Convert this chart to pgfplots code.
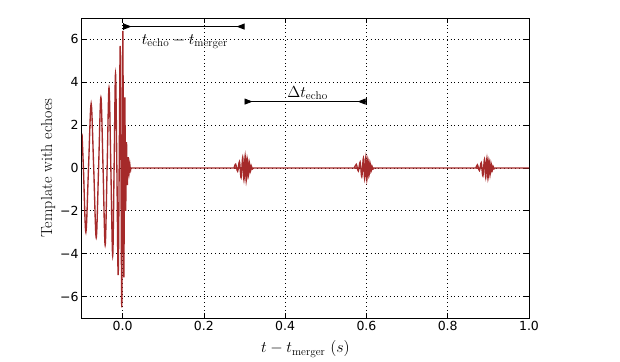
\RequirePackage{fix-cm}
\documentclass[border=0pt]{standalone}
\usepackage{fontspec}
\usepackage{pgfplots}
\pgfplotsset{compat=1.18}
\usetikzlibrary{arrows.meta}
\newfontfamily\dejavu{DejaVu Sans}
\definecolor{wave}{RGB}{165,42,42}
\begin{document}
\begin{tikzpicture}
\begin{axis}[
  at={(0,0)}, anchor=south west,
  scale only axis, width=447pt, height=300pt,
  xmin=-0.1, xmax=1.0, ymin=-7, ymax=7,
  xtick={0,0.2,0.4,0.6,0.8,1.0},
  xticklabels={0.0,0.2,0.4,0.6,0.8,1.0},
  ytick={-6,-4,-2,0,2,4,6},
  yticklabels={−6,−4,−2,0,2,4,6},
  tick label style={font=\dejavu\fontsize{12.5}{14}\selectfont},
  tick align=inside, major tick length=5pt,
  tick style={black, line width=0.8pt},
  xtick pos=both, ytick pos=both,
  axis line style={black, line width=1pt},
  grid=major,
  grid style={black, line width=0.8pt, dash pattern=on 0.8pt off 3pt},
  xlabel={$t - t_{\mathrm{merger}}\ (s)$},
  ylabel={Template with echoes},
  label style={font=\fontsize{16}{18}\selectfont},
  xlabel style={yshift=-3pt},
  ylabel style={yshift=-2pt},
  clip=true,
]
\addplot[wave, line width=1.35pt, smooth, tension=0.55] coordinates {
(-0.1000,1.6) (-0.0965,0) (-0.0905,-3.0) (-0.0840,0) (-0.0775,3.0) (-0.0712,0)
(-0.0650,-3.25) (-0.0592,0) (-0.0535,3.3) (-0.0482,0) (-0.0430,-3.6) (-0.0382,0)
(-0.0335,3.75) (-0.0290,0) (-0.0245,-4.1) (-0.0210,0) (-0.0175,4.4) (-0.0142,0)
(-0.0110,-5.0) (-0.0085,0) (-0.0060,5.7) (-0.0041,0) (-0.0022,-6.5) (-0.0008,0)
(0.0005,6.4) (0.0018,0) (0.0030,-5.1) (0.0043,0) (0.0055,3.3) (0.0065,0)
(0.0075,-2.0) (0.0085,0) (0.0095,1.2) (0.0105,0) (0.0115,-0.8) (0.0125,0)
(0.0135,0.5) (0.0145,0) (0.0155,-0.3) (0.0165,0) (0.0175,0.2) (0.0185,0)
(0.0195,-0.1) (0.0210,0) (0.0300,0)
(0.2700,0) (0.2740,0) (0.2780,0.18) (0.2830,-0.15) (0.2875,0.30) (0.2915,-0.45)
(0.2955,0.50) (0.2985,-0.55) (0.3015,0.57) (0.3040,-0.60) (0.3065,0.45) (0.3090,-0.40)
(0.3115,0.28) (0.3140,-0.18) (0.3165,0.10) (0.3190,-0.05) (0.3220,0) (0.3300,0)
(0.5650,0) (0.5700,0) (0.5750,0.17) (0.5800,-0.14) (0.5845,0.28) (0.5885,-0.41)
(0.5925,0.46) (0.5955,-0.51) (0.5985,0.52) (0.6010,-0.55) (0.6035,0.41) (0.6060,-0.37)
(0.6085,0.26) (0.6110,-0.17) (0.6135,0.09) (0.6160,-0.05) (0.6190,0) (0.6300,0)
(0.8650,0) (0.8690,0) (0.8730,0.15) (0.8780,-0.12) (0.8825,0.25) (0.8865,-0.37)
(0.8905,0.41) (0.8935,-0.45) (0.8965,0.47) (0.8990,-0.49) (0.9015,0.37) (0.9040,-0.33)
(0.9065,0.23) (0.9090,-0.15) (0.9115,0.08) (0.9140,-0.04) (0.9170,0) (0.9300,0)
(1.0000,0)
};
\draw[black, line width=0.8pt,
  {Bar[width=7pt]Triangle[reversed,length=8pt,width=6pt]}-{Triangle[reversed,length=8pt,width=6pt]}]
  (axis cs:0,6.6) -- (axis cs:0.3,6.6);
\draw[black, line width=0.8pt,
  {Triangle[reversed,length=8pt,width=6pt]}-{Triangle[reversed,length=8pt,width=6pt]Bar[width=7pt]}]
  (axis cs:0.3,3.1) -- (axis cs:0.6,3.1);
\node[font=\fontsize{16}{18}\selectfont] at (axis cs:0.153,5.9) {$t_{\mathrm{echo}} - t_{\mathrm{merger}}$};
\node[font=\fontsize{16}{18}\selectfont] at (axis cs:0.455,3.5) {$\Delta t_{\mathrm{echo}}$};
\node[anchor=south west, inner sep=0pt, font=\dejavu\fontsize{12.5}{14}\selectfont] at (rel axis cs:0,1) [yshift=3pt] {1e−22};
\end{axis}
\useasboundingbox (-82pt,-43pt) rectangle (538pt,318pt);
\end{tikzpicture}
\end{document}
